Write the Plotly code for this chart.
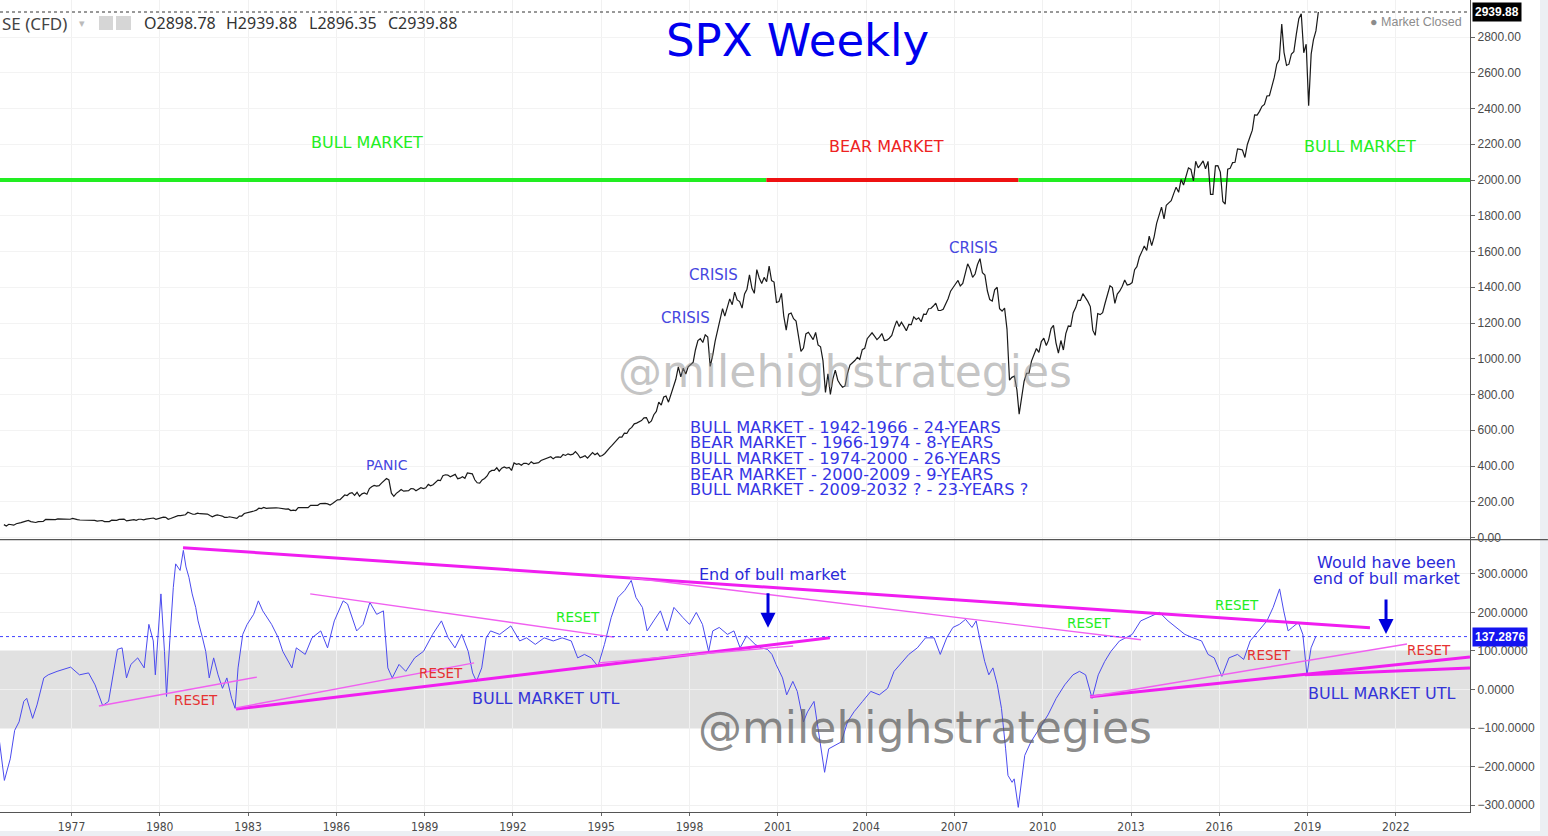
import pandas as pd
import plotly.graph_objects as go

# ---------------------------------------------------------------
# Data
# ---------------------------------------------------------------

# SPX monthly closes (first value = Aug 1974, last = Apr 2019)
spx_start = "1974-08-15"
spx_1970s = [72, 64, 74, 70, 69,
             77, 82, 83, 87, 91, 95, 89, 87, 84, 89, 91, 90,
             101, 100, 103, 102, 100, 104, 103, 102, 105, 102, 102, 107,
             102, 100, 98, 98, 96, 100, 99, 97, 96, 92, 95, 95,
             89, 87, 89, 97, 97, 96, 101, 103, 103, 93, 95, 96,
             100, 96, 102, 102, 99, 103, 104, 109, 109, 102, 106, 108]
spx_1980s = [114, 113, 102, 106, 111, 114, 122, 122, 125, 127, 141, 136,
             130, 131, 136, 133, 133, 131, 131, 123, 116, 122, 126, 123,
             120, 113, 112, 116, 112, 110, 107, 120, 120, 134, 139, 141,
             145, 148, 153, 164, 162, 168, 163, 164, 166, 164, 166, 165,
             163, 157, 159, 160, 151, 153, 151, 167, 166, 166, 164, 167,
             180, 181, 181, 180, 190, 192, 191, 188, 182, 190, 202, 211,
             212, 227, 238, 235, 247, 251, 236, 253, 231, 244, 249, 242,
             274, 284, 291, 288, 290, 304, 318, 330, 322, 248, 230, 247,
             257, 268, 259, 261, 262, 274, 272, 262, 272, 279, 274, 278,
             297, 289, 295, 310, 321, 318, 346, 351, 349, 340, 346, 353]
spx_1990s = [329, 332, 340, 331, 361, 358, 356, 323, 306, 304, 322, 330,
             344, 367, 375, 375, 390, 371, 388, 395, 388, 392, 375, 417,
             409, 413, 404, 415, 415, 408, 424, 414, 418, 419, 431, 436,
             439, 443, 452, 440, 450, 451, 448, 464, 459, 468, 462, 466,
             481, 467, 446, 451, 457, 444, 458, 475, 463, 472, 454, 459,
             470, 487, 501, 515, 533, 545, 562, 562, 584, 582, 605, 616,
             636, 640, 646, 654, 669, 671, 640, 652, 687, 705, 757, 741,
             786, 791, 757, 801, 848, 885, 954, 899, 947, 915, 955, 970,
             980, 1049, 1102, 1112, 1091, 1134, 1121, 957, 1017, 1099, 1164, 1229,
             1280, 1238, 1286, 1335, 1302, 1373, 1329, 1320, 1283, 1363, 1389, 1469]
spx_2000s = [1394, 1366, 1499, 1452, 1421, 1455, 1431, 1518, 1437, 1429, 1315, 1320,
             1366, 1240, 1160, 1249, 1256, 1224, 1211, 1134, 1041, 1060, 1139, 1148,
             1130, 1107, 1147, 1077, 1067, 990, 812, 916, 800, 886, 936, 880,
             856, 841, 848, 917, 964, 975, 990, 1008, 996, 1051, 1058, 1112,
             1131, 1145, 1126, 1107, 1121, 1141, 1102, 1104, 1115, 1130, 1174, 1212,
             1181, 1204, 1181, 1157, 1192, 1191, 1234, 1220, 1229, 1207, 1249, 1248,
             1280, 1281, 1295, 1311, 1270, 1270, 1277, 1304, 1336, 1378, 1401, 1418,
             1438, 1407, 1421, 1482, 1531, 1503, 1455, 1474, 1527, 1560, 1481, 1468,
             1379, 1331, 1323, 1386, 1400, 1280, 1267, 1283, 1166, 880, 896, 903,
             826, 690, 798, 873, 919, 919, 987, 1021, 1057, 1036, 1096, 1115]
spx_2010s = [1074, 1104, 1169, 1187, 1089, 1031, 1102, 1049, 1141, 1183, 1181, 1258,
             1286, 1327, 1326, 1364, 1345, 1321, 1292, 1160, 1131, 1253, 1247, 1258,
             1312, 1366, 1408, 1398, 1310, 1362, 1379, 1406, 1441, 1412, 1416, 1426,
             1498, 1515, 1569, 1598, 1631, 1606, 1686, 1633, 1682, 1757, 1806, 1848,
             1783, 1859, 1872, 1884, 1924, 1960, 1931, 2003, 1972, 2018, 2068, 2059,
             1995, 2105, 2068, 2086, 2107, 2063, 2104, 1920, 1920, 2079, 2080, 2044,
             1880, 1865, 2060, 2065, 2097, 2099, 2174, 2171, 2168, 2126, 2199, 2239,
             2279, 2364, 2363, 2384, 2412, 2423, 2470, 2472, 2519, 2575, 2648, 2674,
             2872, 2714, 2641, 2648, 2705, 2718, 2816, 2902, 2930, 2712, 2760, 2416,
             2704, 2784, 2834, 2939.88]

# lower pane oscillator, read at its turning points (decimal year, value)
osc_years = [1974.54, 1974.72, 1974.92, 1975.07, 1975.22, 1975.38, 1975.48, 1975.68, 1975.83,
             1976.06, 1976.21, 1976.51, 1976.97, 1977.27, 1977.58, 1977.80, 1978.06, 1978.26,
             1978.56, 1978.72, 1978.87, 1979.02, 1979.25, 1979.47, 1979.63, 1979.78, 1979.85,
             1980.04, 1980.16, 1980.23, 1980.34, 1980.46, 1980.54, 1980.69, 1980.80, 1980.89,
             1980.99, 1981.10, 1981.22, 1981.30, 1981.45, 1981.56, 1981.68, 1981.83, 1981.98,
             1982.13, 1982.28, 1982.44, 1982.56, 1982.66, 1982.82, 1982.97, 1983.19, 1983.35,
             1983.50, 1983.65, 1983.80, 1984.03, 1984.18, 1984.49, 1984.64, 1984.94, 1985.17,
             1985.47, 1985.70, 1985.93, 1986.23, 1986.38, 1986.69, 1986.91, 1987.14, 1987.37,
             1987.60, 1987.75, 1987.90, 1988.13, 1988.36, 1988.66, 1988.96, 1989.27, 1989.57,
             1989.80, 1990.03, 1990.26, 1990.48, 1990.63, 1990.76, 1990.94, 1991.09, 1991.24,
             1991.55, 1991.93, 1992.23, 1992.46, 1992.76, 1993.06, 1993.37, 1993.67, 1993.98,
             1994.20, 1994.43, 1994.66, 1994.89, 1995.11, 1995.34, 1995.57, 1995.80, 1996.02,
             1996.18, 1996.40, 1996.56, 1996.78, 1997.01, 1997.24, 1997.47, 1997.77, 1998.00,
             1998.23, 1998.44, 1998.65, 1998.79, 1999.01, 1999.29, 1999.51, 1999.72, 1999.94,
             2000.23, 2000.44, 2000.65, 2000.80, 2000.94, 2001.16, 2001.30, 2001.51, 2001.66,
             2001.87, 2002.01, 2002.23, 2002.44, 2002.59, 2002.73, 2002.95, 2003.16, 2003.37,
             2003.59, 2003.88, 2004.16, 2004.45, 2004.73, 2004.95, 2005.16, 2005.45, 2005.74,
             2006.02, 2006.31, 2006.52, 2006.74, 2006.95, 2007.17, 2007.38, 2007.60, 2007.74,
             2007.88, 2008.03, 2008.17, 2008.31, 2008.46, 2008.60, 2008.74, 2008.82, 2008.96,
             2009.03, 2009.17, 2009.29, 2009.39, 2009.60, 2009.89, 2010.18, 2010.46, 2010.75,
             2011.03, 2011.25, 2011.46, 2011.68, 2011.89, 2012.11, 2012.32, 2012.61, 2012.82,
             2013.04, 2013.33, 2013.61, 2013.97, 2014.26, 2014.54, 2014.83, 2015.11, 2015.40,
             2015.62, 2015.83, 2016.09, 2016.33, 2016.62, 2016.83, 2017.05, 2017.33, 2017.62,
             2017.83, 2018.05, 2018.19, 2018.34, 2018.48, 2018.69, 2018.84, 2018.98, 2019.12,
             2019.28]
osc_values = [-127, -236, -180, -106, -84, -31, -23, -75, -40,
              30, 38, 47, 58, 38, 43, 12, -42, -31,
              104, 108, 30, 65, 82, 56, 169, 126, 38,
              248, 99, -18, 126, 265, 326, 309, 361, 318,
              291, 248, 213, 178, 134, 99, 30, 82, 38,
              3, 30, -23, -49, 56, 143, 169, 195, 230,
              204, 187, 169, 134, 99, 56, 108, 91, 134,
              152, 108, 178, 230, 222, 152, 169, 226, 195,
              204, 56, 30, 65, 47, 82, 99, 143, 178,
              134, 108, 143, 99, 43, 21, 56, 134, 152,
              143, 165, 126, 134, 117, 134, 126, 134, 126,
              82, 91, 82, 60, 117, 187, 239, 257, 283,
              239, 213, 152, 178, 204, 152, 213, 187, 169,
              200, 169, 99, 152, 161, 143, 152, 108, 139,
              117, 108, 104, 91, 65, 30, -14, 21, -5,
              -84, -58, -31, -136, -215, -154, -145, -136, -84,
              -58, -31, -5, -14, 3, 47, 65, 91, 108,
              134, 134, 91, 134, 161, 169, 182, 161, 178,
              126, 73, 38, 56, 12, -49, -154, -223, -241,
              -232, -306, -223, -171, -136, -101, -66, -23, 12,
              38, 47, 38, -23, 38, 73, 99, 126, 134,
              143, 178, 187, 200, 178, 161, 143, 134, 126,
              91, 82, 34, 82, 91, 78, 126, 152, 178,
              213, 261, 204, 152, 161, 174, 143, 38, 108,
              137.2876]

price_last = 2939.88
osc_last = 137.2876

# trend lines on the oscillator pane
tl_x0 = [1980.79, 1995.98, 1985.11, 1977.93, 1982.59, 1982.59, 1994.89, 2011.61, 2011.61, 2018.91]
tl_y0 = [368, 290, 248, -43, -51, -48, 69, -19, -19, 38]
tl_x1 = [2021.12, 2013.34, 1995.43, 1983.30, 2002.77, 1990.68, 2001.52, 2024.52, 2022.38, 2024.52]
tl_y1 = [160, 129, 136, 32, 134, 69, 113, 84, 118, 56]
tl_heavy = [True, False, False, False, True, False, False, True, False, True]

# bull / bear band drawn at the 2000 level
phase_bounds = [1974.571, 2000.61, 2009.18, 2024.52]
phase_colors = ["#22ee22", "#ee1111", "#22ee22"]
phase_level = 2000

x_range = [1974.571, 2024.52]

PW, PH = 1470, 812   # plot area in pixels (reference)
DRAW = "DejaVu Sans, Verdana, sans-serif"
AXIS = "Liberation Sans, Arial, sans-serif"
NARROW = "Liberation Sans Narrow, Arial Narrow, DejaVu Sans Condensed, Liberation Sans, sans-serif"
HDR = "Noto Sans, Open Sans, sans-serif"


def yr(d):
    y = int(d)
    start = pd.Timestamp(year=y, month=1, day=1)
    end = pd.Timestamp(year=y + 1, month=1, day=1)
    return start + (end - start) * (d - y)


def px(x, y):
    return x / PW, 1 - y / PH


def label(fig, text, x, y, color, size, family=DRAW, xanchor="center"):
    ax, ay = px(x, y)
    fig.add_annotation(text=text, xref="paper", yref="paper", x=ax, y=ay,
                       xanchor=xanchor, yanchor="middle", showarrow=False,
                       font=dict(family=family, size=size, color=color))


def create_chart():
    spx = spx_1970s + spx_1980s + spx_1990s + spx_2000s + spx_2010s
    spx_dates = pd.date_range(spx_start, periods=len(spx), freq="MS") + pd.Timedelta(days=14)
    osc_dates = [yr(v) for v in osc_years]

    fig = go.Figure()

    # 1. price pane
    for i, c in enumerate(phase_colors):
        fig.add_trace(go.Scatter(x=[yr(phase_bounds[i]), yr(phase_bounds[i + 1])],
                                 y=[phase_level, phase_level], mode="lines",
                                 line=dict(color=c, width=4), yaxis="y", hoverinfo="skip"))
    fig.add_trace(go.Scatter(x=spx_dates, y=spx, mode="lines",
                             line=dict(color="#1a1a1a", width=1.2), yaxis="y"))

    # 2. oscillator pane
    fig.add_trace(go.Scatter(x=osc_dates, y=osc_values, mode="lines",
                             line=dict(color="#4b4bef", width=1), yaxis="y2"))
    for x0, y0, x1, y1, heavy in zip(tl_x0, tl_y0, tl_x1, tl_y1, tl_heavy):
        fig.add_trace(go.Scatter(x=[yr(x0), yr(x1)], y=[y0, y1], mode="lines",
                                 line=dict(color="#f01ef0" if heavy else "#f060f0",
                                           width=3 if heavy else 1.4),
                                 yaxis="y2", hoverinfo="skip"))

    # shapes: neutral band, last-value lines, pane separator, frame strips
    fig.add_shape(type="rect", xref="paper", yref="y2", x0=0, x1=1, y0=-100, y1=100,
                  fillcolor="#e1e1e1", line=dict(width=0), layer="below")
    fig.add_shape(type="line", xref="paper", yref="y", x0=0, x1=1, y0=price_last, y1=price_last,
                  line=dict(color="#333333", width=1, dash="dot"))
    fig.add_shape(type="line", xref="paper", yref="y2", x0=0, x1=1, y0=osc_last, y1=osc_last,
                  line=dict(color="#4040ff", width=1, dash="dot"))
    fig.add_shape(type="line", xref="paper", yref="paper", x0=0, x1=1.053, y0=0.3355, y1=0.3355,
                  line=dict(color="#555555", width=1.2))
    fig.add_shape(type="rect", xref="paper", yref="paper", x0=1540 / PW, x1=1.06, y0=-0.1, y1=1.1,
                  fillcolor="#eceff3", line=dict(width=0), layer="below")
    fig.add_shape(type="rect", xref="paper", yref="paper", x0=-0.01, x1=1.06,
                  y0=1 - 831 / PH, y1=-0.1, fillcolor="#eceff3", line=dict(width=0), layer="below")
    # header icons
    for a, b in [(99, 113), (116, 131)]:
        fig.add_shape(type="rect", xref="paper", yref="paper", x0=a / PW, x1=b / PW,
                      y0=1 - 30 / PH, y1=1 - 16 / PH, fillcolor="#d6d6d6", line=dict(width=0))

    # 3. texts
    label(fig, "SPX Weekly", 797, 40, "#0000ee", 45)
    label(fig, "BULL MARKET", 367, 143, "#22ee22", 16)
    label(fig, "BEAR MARKET", 886, 147, "#ee2222", 16)
    label(fig, "BULL MARKET", 1360, 147, "#22ee22", 16)
    label(fig, "CRISIS", 713, 275, "#4646e0", 15)
    label(fig, "CRISIS", 685, 318, "#4646e0", 15)
    label(fig, "CRISIS", 973, 248, "#4646e0", 15)
    label(fig, "PANIC", 387, 465, "#4646e0", 14)
    block = ["BULL MARKET - 1942-1966 - 24-YEARS",
             "BEAR MARKET - 1966-1974 - 8-YEARS",
             "BULL MARKET - 1974-2000 - 26-YEARS",
             "BEAR MARKET - 2000-2009 - 9-YEARS",
             "BULL MARKET - 2009-2032 ? - 23-YEARS ?"]
    for i, t in enumerate(block):
        label(fig, t, 688, 427 + i * 15.7, "#3535e5", 16.2, xanchor="left")
    label(fig, "@milehighstrategies", 845, 371, "rgba(140,140,140,0.5)", 44)
    label(fig, "@milehighstrategies", 925, 727, "rgba(95,95,95,0.72)", 44)

    for x, y in [(196, 700), (441, 673), (1269, 655), (1429, 650)]:
        label(fig, "RESET", x, y, "#e63232", 13.5)
    for x, y in [(578, 617), (1089, 623), (1237, 605)]:
        label(fig, "RESET", x, y, "#22ee22", 13.5)
    label(fig, "BULL MARKET UTL", 545, 698, "#3434d8", 16)
    label(fig, "BULL MARKET UTL", 1381, 693, "#3434d8", 16)
    label(fig, "End of bull market", 772, 574, "#2a2ad8", 16)
    label(fig, "Would have been", 1386, 562, "#2a2ad8", 16)
    label(fig, "end of bull market", 1386, 578, "#2a2ad8", 16)

    for xp, v in [(768, 160), (1386, 144)]:
        fig.add_annotation(x=yr(x_range[0] + xp / 29.43), y=v, xref="x", yref="y2", text="",
                           showarrow=True, ax=0, ay=-36, arrowhead=2, arrowsize=1,
                           arrowwidth=3, arrowcolor="#0000dd")

    # header
    label(fig, "SE (CFD)", 0, 23, "#444444", 17, family=HDR, xanchor="left")
    label(fig, "▾", 82, 22, "#bbbbbb", 11, family=HDR)
    for t, x in [("O2898.78", 142), ("H2939.88", 224), ("L2896.35", 307), ("C2939.88", 386)]:
        label(fig, t, x, 23, "#333333", 16, family=HDR, xanchor="left")
    label(fig, "● Market Closed", 1464, 22, "#8c8c8c", 12.5, family=AXIS, xanchor="right")

    # last-value boxes on the price scales
    fig.add_annotation(x=1 + 2 / PW, xref="paper", y=price_last, yref="y", xanchor="left",
                       text="<b>2939.88</b>", showarrow=False, bgcolor="#000000", borderpad=2,
                       font=dict(family=AXIS, size=12, color="white"))
    fig.add_annotation(x=1 + 2 / PW, xref="paper", y=osc_last, yref="y2", xanchor="left",
                       text="<b>137.2876</b>", showarrow=False, bgcolor="#1414f0", borderpad=2,
                       font=dict(family=AXIS, size=12, color="white"))

    # 4. layout
    tick_font = dict(family=AXIS, size=12, color="#4a4a4a")
    fig.update_layout(
        width=1548, height=836,
        margin=dict(l=0, r=78, t=0, b=24),
        paper_bgcolor="white", plot_bgcolor="white",
        showlegend=False,
        xaxis=dict(type="date", range=[yr(x_range[0]), yr(x_range[1])], anchor="y2",
                   tick0="1977-01-01", dtick="M36", tickformat="%Y",
                   ticks="outside", ticklen=3, tickcolor="#666",
                   showline=True, linecolor="#555", linewidth=1.2,
                   showgrid=True, gridcolor="#f1f1f1", zeroline=False,
                   tickfont=dict(family=NARROW, size=12, color="#4a4a4a")),
        yaxis=dict(domain=[0.3363, 1], anchor="x", side="right", range=[-8, 3007],
                   tickvals=list(range(0, 2801, 200)), tickformat=".2f",
                   ticks="outside", ticklen=4, tickcolor="#666",
                   showline=True, linecolor="#555", linewidth=1.2,
                   showgrid=True, gridcolor="#f3f3f3", zeroline=False, tickfont=tick_font),
        yaxis2=dict(domain=[0, 0.3350], anchor="x", side="right", range=[-318, 388],
                    tickvals=list(range(-300, 301, 100)), tickformat=".4f",
                    ticks="outside", ticklen=4, tickcolor="#666",
                    showline=True, linecolor="#555", linewidth=1.2,
                    showgrid=True, gridcolor="#f0f0f0", zeroline=False, tickfont=tick_font),
    )
    return fig


if __name__ == "__main__":
    fig = create_chart()
    # the page's default body margin would shift the figure by 8px
    fig.write_html("out.html", config={"displayModeBar": False},
                   post_script="document.body.style.margin='0px';")
